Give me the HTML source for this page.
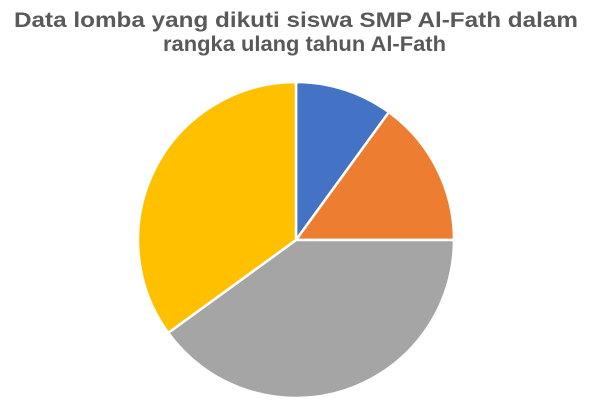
<!DOCTYPE html>
<html><head><meta charset="utf-8"><style>
body{margin:0;background:#fff;width:603px;height:405px;overflow:hidden;font-family:"Liberation Sans",sans-serif;}
</style></head><body>
<svg id="chart" width="603" height="405" xmlns="http://www.w3.org/2000/svg">
<text x="14" y="27" textLength="564" lengthAdjust="spacingAndGlyphs" font-family="Liberation Sans, sans-serif" font-weight="bold" font-size="21.5" fill="#595959">Data lomba yang dikuti siswa SMP Al-Fath dalam</text>
<text x="163" y="51" textLength="283" lengthAdjust="spacingAndGlyphs" font-family="Liberation Sans, sans-serif" font-weight="bold" font-size="21.5" fill="#595959">rangka ulang tahun Al-Fath</text>
<g id="slices"></g>
</svg>
<script>
const categories = ["Lomba 1","Lomba 2","Lomba 3","Lomba 4"];
const values = [10,15,40,35];
const colors = ["#4472C4","#ED7D31","#A5A5A5","#FFC000"];
const cx=296, cy=240, r=158;
const g=document.getElementById('slices');
const total=values.reduce((a,b)=>a+b,0);
let acc=0;
function pt(f){const a=f*2*Math.PI;return [cx+r*Math.sin(a), cy-r*Math.cos(a)];}
values.forEach((v,i)=>{
  const s=acc/total, e=(acc+v)/total; acc+=v;
  const [x1,y1]=pt(s),[x2,y2]=pt(e);
  const large=(e-s)>0.5?1:0;
  const p=document.createElementNS('http://www.w3.org/2000/svg','path');
  p.setAttribute('d',`M${cx},${cy} L${x1},${y1} A${r},${r} 0 ${large} 1 ${x2},${y2} Z`);
  p.setAttribute('fill',colors[i]);
  p.setAttribute('stroke','#fff');
  p.setAttribute('stroke-width','2.5');
  p.setAttribute('stroke-linejoin','round');
  
  
  g.appendChild(p);
});
</script>
</body></html>
